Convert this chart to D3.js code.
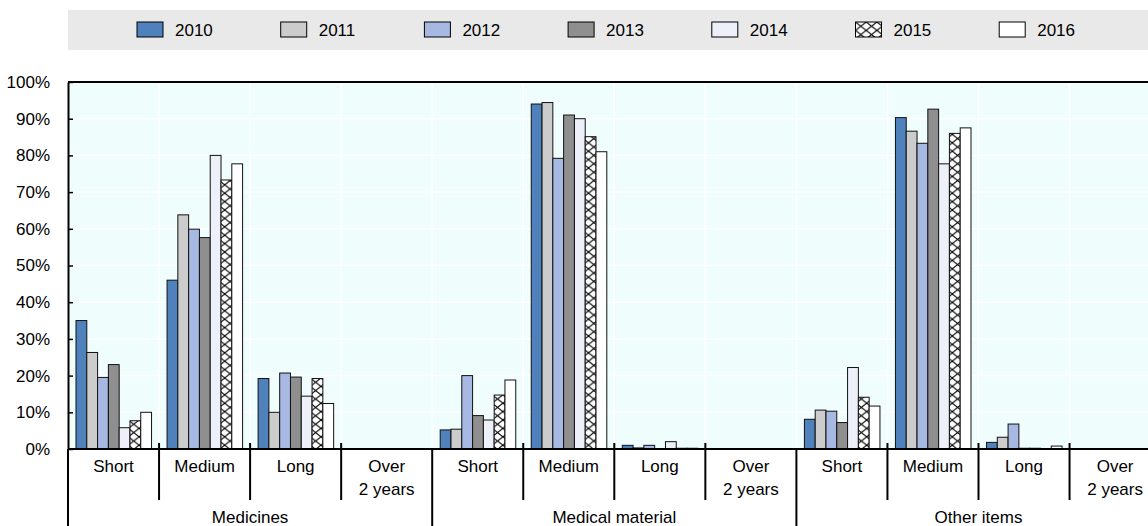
<!DOCTYPE html>
<html>
<head>
<meta charset="utf-8">
<script src="https://cdn.jsdelivr.net/npm/d3@7"></script>
<style>
  body { margin: 0; background: #fff; }
  text { font-family: "Liberation Sans Narrow", "Arial Narrow", "Liberation Sans", Arial, sans-serif; fill: #000; }
</style>
</head>
<body>
<div id="viz"></div>
<script>
var width = 1148
var height = 526

// data
var years = ["2010", "2011", "2012", "2013", "2014", "2015", "2016"];
var groups = ["Medicines", "Medical material", "Other items"];
var cats = ["Short", "Medium", "Long", "Over 2 years"];
var yTicks = [0, 10, 20, 30, 40, 50, 60, 70, 80, 90, 100];

// one array per year, 12 values: group x category
var v2010 = [35.0, 46.0, 19.2, 0,  5.2, 94.0, 1.0, 0,  8.1, 90.3, 1.8, 0];
var v2011 = [26.3, 63.8, 10.0, 0,  5.4, 94.4, 0.3, 0,  10.6, 86.6, 3.2, 0];
var v2012 = [19.5, 59.9, 20.7, 0,  20.0, 79.2, 1.0, 0, 10.3, 83.3, 6.8, 0];
var v2013 = [23.0, 57.6, 19.6, 0,  9.1, 91.0, 0.1, 0,  7.2, 92.6, 0.2, 0];
var v2014 = [5.8, 80.0, 14.4, 0,   7.9, 90.0, 2.0, 0,  22.2, 77.7, 0.2, 0];
var v2015 = [7.7, 73.3, 19.2, 0,   14.7, 85.1, 0.2, 0, 14.1, 86.0, 0, 0];
var v2016 = [10.0, 77.7, 12.4, 0,  18.8, 81.0, 0.2, 0, 11.7, 87.5, 0.8, 0];
var values = [v2010, v2011, v2012, v2013, v2014, v2015, v2016];

var colors = ["#4f81bd", "#cccccc", "#a7b9e3", "#8f8f8f", "#edf0f8", "url(#xhatch)", "#ffffff"];

var slots = [];
groups.forEach(function(g) { cats.forEach(function(c) { slots.push(g + "|" + c); }); });

var plotLeft = 68, plotTop = 82, plotBottom = 449;
var slotW = 91.05;

var svg = d3.select("#viz").append("svg")
    .attr("width", width)
    .attr("height", height);

// hatch pattern for 2015
var defs = svg.append("defs");
var pat = defs.append("pattern")
    .attr("id", "xhatch")
    .attr("patternUnits", "userSpaceOnUse")
    .attr("width", 10.7)
    .attr("height", 8.4);
pat.append("rect").attr("width", 10.7).attr("height", 8.4).attr("fill", "#fff");
pat.append("path")
    .attr("d", "M0,0L10.7,8.4M10.7,0L0,8.4")
    .attr("stroke", "#000")
    .attr("stroke-width", 1.1);

var x0 = d3.scaleBand()
    .domain(slots)
    .range([plotLeft, plotLeft + slotW * slots.length]);

var x1 = d3.scaleBand()
    .domain(years)
    .range([8, slotW - 7.5]);

var y = d3.scaleLinear()
    .domain([0, 100])
    .range([plotBottom, plotTop]);

// legend band
svg.append("rect")
    .attr("x", plotLeft).attr("y", 10)
    .attr("width", width - plotLeft).attr("height", 40)
    .attr("fill", "#e9e9e9");

var leg = svg.append("g").selectAll("g")
    .data(years)
    .enter().append("g")
    .attr("transform", function(d, i) { return "translate(" + (137 + i * 143.7) + ",22)"; });
leg.append("rect")
    .attr("width", 26).attr("height", 15)
    .attr("fill", function(d, i) { return colors[i]; })
    .attr("stroke", "#000").attr("stroke-width", 1);
leg.append("text")
    .attr("x", 38).attr("y", 14)
    .style("font-size", "17px")
    .text(function(d) { return d; });

// plot background
svg.append("rect")
    .attr("x", plotLeft).attr("y", plotTop)
    .attr("width", width - plotLeft).attr("height", plotBottom - plotTop)
    .attr("fill", "#f0fdfd");

// gridlines
svg.append("g").selectAll("line")
    .data(yTicks.slice(1, 10))
    .enter().append("line")
    .attr("x1", plotLeft).attr("x2", width)
    .attr("y1", function(d) { return y(d); })
    .attr("y2", function(d) { return y(d); })
    .attr("stroke", "#fff").attr("stroke-width", 1.5);

svg.append("g").selectAll("line")
    .data(slots.slice(1))
    .enter().append("line")
    .attr("x1", function(d) { return x0(d); })
    .attr("x2", function(d) { return x0(d); })
    .attr("y1", plotTop).attr("y2", plotBottom)
    .attr("stroke", "#fff").attr("stroke-width", 1.5);

// bars
var series = svg.append("g").selectAll("g")
    .data(values)
    .enter().append("g")
    .attr("fill", function(d, i) { return colors[i]; });

series.selectAll("rect")
    .data(function(d, i) {
        return d.map(function(v, j) { return { year: years[i], slot: slots[j], value: v }; })
            .filter(function(e) { return e.value > 0; });
    })
    .enter().append("rect")
    .attr("x", function(d) { return x0(d.slot) + x1(d.year); })
    .attr("width", x1.bandwidth())
    .attr("y", function(d) { return y(d.value); })
    .attr("height", function(d) { return y(0) - y(d.value); })
    .attr("stroke", "#111")
    .attr("stroke-width", 1);

// y axis
var yAxis = svg.append("g")
    .attr("transform", "translate(" + plotLeft + ",0)")
    .call(d3.axisLeft(y)
        .tickValues(yTicks)
        .tickFormat(function(d) { return d + "%"; })
        .tickSizeInner(-5)
        .tickSizeOuter(0)
        .tickPadding(18));
yAxis.select(".domain").attr("stroke", "#000").attr("stroke-width", 2);
yAxis.selectAll(".tick line").attr("stroke", "#000").attr("stroke-width", 1.5);
yAxis.selectAll("text").style("font-size", "17px");

// top border and baseline
svg.append("line")
    .attr("x1", plotLeft).attr("x2", width)
    .attr("y1", plotTop).attr("y2", plotTop)
    .attr("stroke", "#000").attr("stroke-width", 2);
svg.append("line")
    .attr("x1", plotLeft).attr("x2", width)
    .attr("y1", plotBottom).attr("y2", plotBottom)
    .attr("stroke", "#000").attr("stroke-width", 2);

// category separators
svg.append("g").selectAll("line")
    .data(slots.filter(function(d, i) { return i % 4 !== 0; }))
    .enter().append("line")
    .attr("x1", function(d) { return x0(d); })
    .attr("x2", function(d) { return x0(d); })
    .attr("y1", plotBottom - 6).attr("y2", 500)
    .attr("stroke", "#000").attr("stroke-width", 2);

// group separators
svg.append("g").selectAll("line")
    .data(slots.filter(function(d, i) { return i % 4 === 0; }))
    .enter().append("line")
    .attr("x1", function(d) { return x0(d); })
    .attr("x2", function(d) { return x0(d); })
    .attr("y1", plotBottom).attr("y2", height)
    .attr("stroke", "#000").attr("stroke-width", 2);

// category labels
var catLab = svg.append("g").selectAll("text")
    .data(slots)
    .enter().append("text")
    .attr("text-anchor", "middle")
    .attr("transform", function(d) { return "translate(" + (x0(d) + x0.bandwidth() / 2) + ",472)"; })
    .style("font-size", "17px");
catLab.each(function(d) {
    var c = d.split("|")[1];
    var t = d3.select(this);
    if (c === "Over 2 years") {
        t.append("tspan").attr("x", 0).attr("y", 0).text("Over");
        t.append("tspan").attr("x", 0).attr("y", 23).text("2 years");
    } else {
        t.text(c);
    }
});

// group labels
svg.append("g").selectAll("text")
    .data(groups)
    .enter().append("text")
    .attr("text-anchor", "middle")
    .attr("x", function(d) { return x0(d + "|Short") + 2 * x0.bandwidth(); })
    .attr("y", 523)
    .style("font-size", "17px")
    .text(function(d) { return d; });
</script>
</body>
</html>
